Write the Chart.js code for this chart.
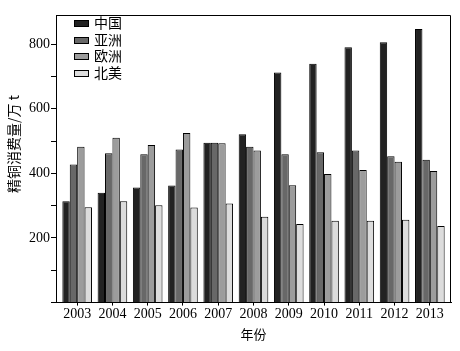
<!DOCTYPE html>
<html>
<head>
<meta charset="utf-8">
<script src="https://cdn.jsdelivr.net/npm/chart.js@4/dist/chart.umd.min.js"></script>
<style>
  html, body { margin: 0; padding: 0; background: #fff; }
  #wrap { width: 460px; height: 351px; }
</style>
</head>
<body>
<div id="wrap"><canvas id="grafica"></canvas></div>
<script>
// datos
const anios = ["2003", "2004", "2005", "2006", "2007", "2008", "2009", "2010", "2011", "2012", "2013"];
const china = [314, 340, 356, 362, 495, 521, 712, 739, 790, 806, 847];
const asia = [427, 462, 459, 474, 495, 482, 459, 465, 471, 453, 442];
const europa = [482, 510, 488, 525, 493, 471, 363, 398, 410, 436, 407];
const norteamerica = [295, 314, 301, 294, 307, 266, 243, 253, 253, 256, 237];
const nombres = ["中国", "亚洲", "欧洲", "北美"];
const colores = ["#222222", "#686868", "#9c9c9c", "#dcdcdc"];
// marcas del eje y (solo las de 200 llevan numero)
const marcasY = [0, 100, 200, 300, 400, 500, 600, 700, 800];
const etiquetasY = [200, 400, 600, 800];
const tituloY = "精铜消费量/万 t";
const tituloX = "年份";

const serif = "'Liberation Serif', 'DejaVu Serif', serif";
const cjk = "'Noto Sans CJK SC', sans-serif";

// eje de categorias con un poco mas de margen a los lados
class CategoriaAmplia extends Chart.CategoryScale {
  static id = "categoriaAmplia";
  buildTicks() {
    const t = super.buildTicks();
    this._startValue = this.min - 0.6;
    this._valueRange = this.max - this.min + 1.2;
    return t;
  }
}
Chart.register(CategoriaAmplia);

// marco superior/derecho, titulo del eje y, leyenda dentro del area
const marco = {
  id: "marco",
  afterDraw(chart) {
    const c = chart.ctx;
    const a = chart.chartArea;
    c.save();
    c.strokeStyle = "#000";
    c.lineWidth = 1;
    c.beginPath();
    c.moveTo(a.left, Math.round(a.top) + 0.5);
    c.lineTo(Math.round(a.right) - 0.5, Math.round(a.top) + 0.5);
    c.lineTo(Math.round(a.right) - 0.5, a.bottom);
    c.stroke();

    // titulo vertical
    c.save();
    c.translate(14, 144);
    c.rotate(-Math.PI / 2);
    c.fillStyle = "#000";
    c.font = "14px " + cjk;
    c.textAlign = "center";
    c.textBaseline = "middle";
    c.fillText(tituloY, 0, 0);
    c.restore();

    // leyenda
    chart.data.datasets.forEach((ds, i) => {
      const y = Math.round(a.top + 8 + i * 16.7);
      c.fillStyle = ds.backgroundColor;
      c.fillRect(a.left + 18, y - 3, 15, 7);
      c.strokeStyle = "#000";
      c.strokeRect(a.left + 18.5, y - 2.5, 14, 6);
      c.fillStyle = "#000";
      c.font = "14px " + cjk;
      c.textBaseline = "middle";
      c.fillText(ds.label, a.left + 38, y);
    });
    c.restore();
  }
};

const series = [china, asia, europa, norteamerica];
const ctx = document.getElementById("grafica").getContext("2d");
new Chart(ctx, {
  type: "bar",
  data: {
    labels: anios,
    datasets: series.map((s, i) => ({
      label: nombres[i],
      data: s,
      backgroundColor: colores[i],
      borderColor: "#000",
      borderWidth: 1,
      barPercentage: 1,
      categoryPercentage: 0.84
    }))
  },
  options: {
    responsive: true,
    maintainAspectRatio: false,
    animation: false,
    layout: { padding: { left: 28, right: 9, top: 15, bottom: 9 } },
    plugins: { legend: { display: false }, tooltip: { enabled: false } },
    scales: {
      x: {
        type: "categoriaAmplia",
        grid: { display: true, drawOnChartArea: false, offset: false, tickLength: 3, color: "#000" },
        border: { color: "#000", width: 1 },
        ticks: { color: "#000", font: { family: serif, size: 14 }, maxRotation: 0, autoSkip: false, padding: 0 },
        title: { display: true, text: tituloX, color: "#000", font: { family: cjk, size: 13 }, padding: { top: 4, bottom: 0 } }
      },
      y: {
        min: 0,
        max: 890,
        afterBuildTicks: s => { s.ticks = marcasY.map(v => ({ value: v })); },
        grid: { display: true, drawOnChartArea: false, tickLength: 5, color: "#000" },
        border: { color: "#000", width: 1 },
        ticks: {
          color: "#000",
          font: { family: serif, size: 14 },
          padding: 1,
          autoSkip: false,
          callback: v => etiquetasY.includes(v) ? String(v) : ""
        }
      }
    }
  },
  plugins: [marco]
});
</script>
</body>
</html>
